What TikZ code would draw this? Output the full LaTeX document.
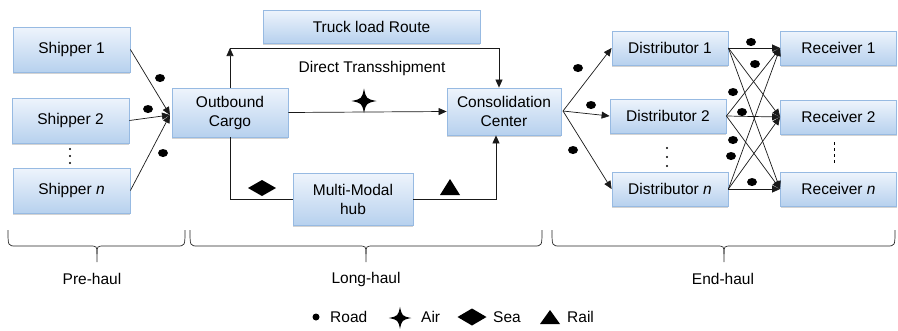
\documentclass[tikz,border=0pt]{standalone}
\usepackage{fontspec}
\setmainfont{Liberation Sans}
\usetikzlibrary{arrows.meta,shadows,calc}

% curly brace under a group of stages: left end, tip, right end
\newcommand{\haulbrace}[3]{%
  \draw[bracestyle] (#1,230) .. controls (#1,246) .. ({#1+8},246) -- ({#2-8},246)
     .. controls (#2,246) .. (#2,254) -- (#2,262);
  \draw[bracestyle] (#2,254) .. controls (#2,246) .. ({#2+8},246) -- ({#3-8},246)
     .. controls (#3,246) .. (#3,230);}

\tikzset{
  box/.style={draw=boxedge, line width=0.8pt, top color=boxtop, bottom color=boxbot,
    inner sep=0pt, align=center, font=\fontsize{15.5}{19}\selectfont,
    drop shadow={shadow xshift=0pt, shadow yshift=-2pt, opacity=0.35, fill=black!50}},
  link/.style={draw=black!90, line width=0.7pt},
  arr/.style={link, -{Triangle[length=8pt,width=7pt]}},
  bracestyle/.style={draw=black!85, line width=0.7pt},
  lbl/.style={font=\fontsize{15.5}{18}\selectfont, inner sep=0pt},
  roaddot/.style={fill=black},
  % four-pointed star marking air transport
  airmark/.pic={\fill (0,-12.5) .. controls (2.2,-2.2) .. (12.5,0)
     .. controls (2.2,2.2) .. (0,12) .. controls (-2.2,2.2) .. (-12.5,0)
     .. controls (-2.2,-2.2) .. cycle;},
}
\definecolor{boxedge}{HTML}{97BAE2}
\definecolor{boxtop}{HTML}{EEF4FC}
\definecolor{boxbot}{HTML}{B7D1EE}

\begin{document}
\begin{tikzpicture}[x=1pt,y=-1pt]
\useasboundingbox (0,0) rectangle (898,330);

% ---------- boxes ----------
\node[box, minimum width=117, minimum height=45] (s1) at (71.5,49.5) {Shipper 1};
\node[box, minimum width=117, minimum height=45] (s2) at (70.5,120.5) {Shipper 2};
\node[box, minimum width=117, minimum height=45] (sn) at (71.5,190.5) {Shipper \textit{n}};

\node[box, minimum width=116, minimum height=49] (out) at (230,112.5) {Outbound\\Cargo};
\node[box, minimum width=217, minimum height=33] (truck) at (371.5,26.5) {Truck load Route};
\node[box, minimum width=114, minimum height=47] (cons) at (504,111.5) {Consolidation\\Center};
\node[box, minimum width=120, minimum height=52] (hub) at (353,199) {Multi-Modal\\hub};

\node[box, minimum width=116, minimum height=34] (d1) at (670,48) {Distributor 1};
\node[box, minimum width=116, minimum height=34] (d2) at (668,116) {Distributor 2};
\node[box, minimum width=116, minimum height=34] (dn) at (670,189) {Distributor \textit{n}};

\node[box, minimum width=116, minimum height=34] (r1) at (838.5,48) {Receiver 1};
\node[box, minimum width=116, minimum height=34] (r2) at (838.5,117) {Receiver 2};
\node[box, minimum width=116, minimum height=34] (rn) at (838.5,189) {Receiver \textit{n}};

\node[lbl] (dt) at (372,68) {Direct Transshipment};

% ---------- pre-haul ----------
\coordinate (oin) at (170,115);
\draw[arr] (s1.east) -- (oin);
\draw[arr] (s2.east) -- (oin);
\draw[arr] (sn.east) -- (oin);
\foreach \p in {(160,78),(148,109),(163,153)} \fill[roaddot] \p ellipse (5 and 4);
\foreach \yy in {149,156,163} \fill (70,\yy) circle (1.1);

% ---------- long-haul ----------
\coordinate (tl) at (230,48);
\coordinate (tr) at (499,48);
\draw[arr] (out.north) -- (tl);
\draw[arr] (tl) -- (tr) -- (tr |- cons.north);
\draw[arr] (out.east) -- (cons.west);
\coordinate (bl) at (230,199);
\coordinate (br) at (496,199);
\draw[link] (out.south) -- (bl) -- (hub.west);
\draw[arr] (hub.east) -- (br) -- (br |- cons.south);

% air mark
\pic at (364,101) {airmark};
% sea mark
\fill (262,188) +(-14,0) -- +(0,-8) -- +(14,0) -- +(0,8) -- cycle;
% rail mark
\fill (450,187) +(-10,8) -- +(0,-8) -- +(10,8) -- cycle;

% ---------- end-haul ----------
\coordinate (cout) at (563,111);
\draw[arr] (cout) -- (d1.west);
\draw[arr] (cout) -- (d2.west);
\draw[arr] (cout) -- (dn.west);
\foreach \p in {(578,68),(591,105),(573,150)} \fill[roaddot] \p ellipse (5 and 4);

\foreach \d in {d1,d2,dn}{
  \foreach \r in {r1,r2,rn}{
    \draw[arr] (\d.east) -- (\r.west);
  }
}
\foreach \p in {(751,42),(755,64),(733,92),(742,112),(733,140),(731,156),(752,182)}
  \fill[roaddot] \p ellipse (5 and 4);
\foreach \yy in {148,157,166} \fill (667,\yy) circle (1.1);
\draw[dashed, line width=0.6pt] (834,142) -- (834,165);

% ---------- stage braces ----------
\haulbrace{8}{97}{185}
\haulbrace{190}{366}{542}
\haulbrace{552}{724}{895}
\node[lbl] (pre) at (92,279) {Pre-haul};
\node[lbl] (long) at (366,279) {Long-haul};
\node[lbl] (end) at (723,279) {End-haul};

% ---------- legend ----------
\fill (316,317) ellipse (3.5 and 3.5);
\node[lbl, anchor=west] (lroad) at (330,317) {Road};
\pic[scale=0.9] at (400,318) {airmark};
\node[lbl, anchor=west] (lair) at (421,317) {Air};
\fill (472,317) +(-14.5,0) -- +(0,-8.5) -- +(14.5,0) -- +(0,8.5) -- cycle;
\node[lbl, anchor=west] (lsea) at (493,317) {Sea};
\fill (550,317) +(-10,7) -- +(0,-7) -- +(10,7) -- cycle;
\node[lbl, anchor=west] (lrail) at (567,317) {Rail};
\end{tikzpicture}
\end{document}
